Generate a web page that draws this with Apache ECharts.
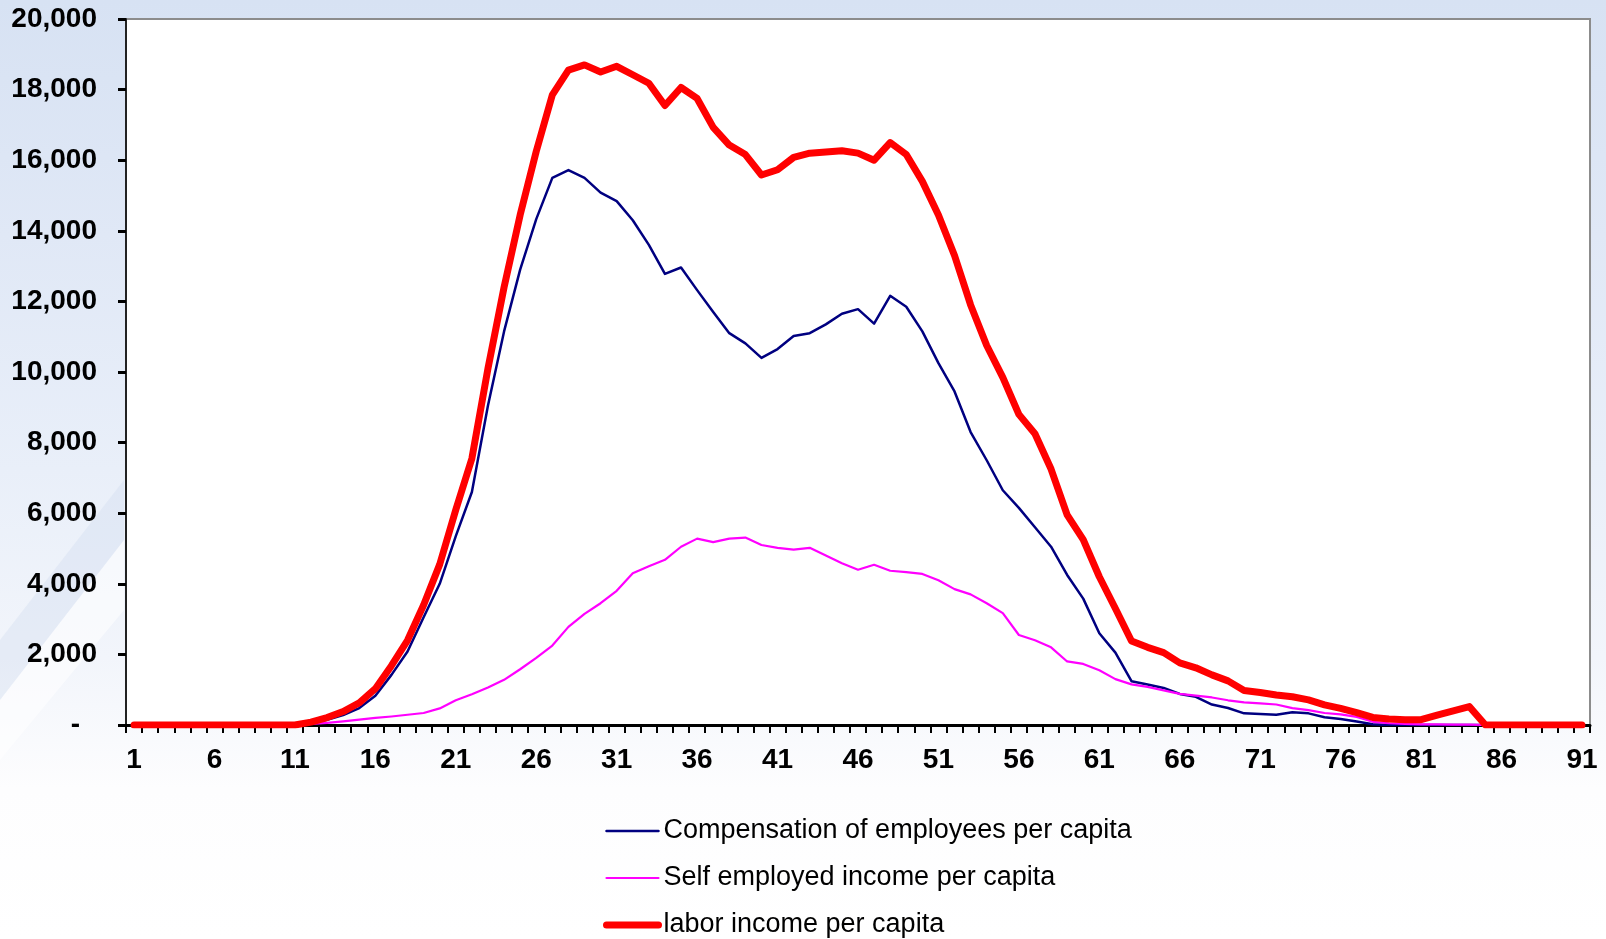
<!DOCTYPE html>
<html>
<head>
<meta charset="utf-8">
<title>Labor income per capita by age</title>
<script src="https://cdn.jsdelivr.net/npm/echarts@6/dist/echarts.min.js"></script>
<style>
  html, body { margin: 0; padding: 0; width: 1606px; height: 939px; overflow: hidden; }
  body {
    background: linear-gradient(180deg, #d7e2f3 0%, #e0e8f6 25%, #e9eff9 50%, #f2f5fb 70%, #fdfdfe 84%, #ffffff 100%);
  }
  #chart { width: 1606px; height: 939px; }
</style>
</head>
<body>
<div id="chart"></div>
<script>
// Age groups on the horizontal axis
const ages = [
  1, 2, 3, 4, 5, 6, 7, 8, 9, 10, 11, 12, 13, 14, 15, 16, 17, 18, 19, 20,
  21, 22, 23, 24, 25, 26, 27, 28, 29, 30, 31, 32, 33, 34, 35, 36, 37, 38, 39, 40,
  41, 42, 43, 44, 45, 46, 47, 48, 49, 50, 51, 52, 53, 54, 55, 56, 57, 58, 59, 60,
  61, 62, 63, 64, 65, 66, 67, 68, 69, 70, 71, 72, 73, 74, 75, 76, 77, 78, 79, 80,
  81, 82, 83, 84, 85, 86, 87, 88, 89, 90, 91
];

// Compensation of employees per capita, ages 1..91
const compensation = [
  0, 0, 0, 0, 0, 0, 0, 0, 0, 0, 0,
  50, 150, 280, 480, 830, 1420, 2080, 3050, 4000,
  5350, 6600, 9050, 11150, 12900, 14330, 15500, 15720, 15500, 15080,
  14840, 14300, 13600, 12780, 12960, 12320, 11700, 11100, 10810, 10400,
  10650, 11020, 11100, 11350, 11650, 11780, 11370, 12160, 11850, 11150,
  10250, 9450, 8300, 7500, 6650, 6150, 5600, 5050, 4250, 3580,
  2600, 2050, 1240, 1150, 1050, 880, 800, 580, 480, 330,
  310, 290, 360, 330, 220, 170, 100, 20,
  0, 0, 0, 0, 0, 0, 0, 0, 0, 0, 0, 0, 0
];

// Self employed income per capita, ages 1..91
const selfEmployed = [
  0, 0, 0, 0, 0, 0, 0, 0, 0, 0, 0,
  30, 60, 100, 150, 200, 240, 290, 340, 470,
  700, 870, 1060, 1280, 1580, 1900, 2250, 2780, 3150, 3450,
  3800, 4300, 4500, 4680, 5050, 5280, 5180, 5280, 5310, 5100,
  5020, 4970, 5020, 4800, 4580, 4400, 4540, 4370, 4330, 4280,
  4100, 3850, 3700, 3450, 3170, 2550, 2400, 2200, 1800, 1730,
  1550, 1300, 1150, 1080, 980, 880, 830, 780, 700, 640,
  610, 580, 480, 420, 340, 300, 230, 90, 50, 30,
  20, 15, 10, 10,
  0, 0, 0, 0, 0, 0, 0
];

// Labor income per capita, ages 1..91
const laborIncome = [
  0, 0, 0, 0, 0, 0, 0, 0, 0, 0, 0,
  80, 210, 380, 630, 1030, 1680, 2400, 3400, 4550,
  6100, 7550, 10100, 12400, 14450, 16250, 17850, 18550, 18700, 18500,
  18660, 18420, 18180, 17550, 18060, 17750, 16930, 16430, 16160, 15580,
  15730, 16080, 16200, 16230, 16270, 16200, 16000, 16500, 16160, 15400,
  14450, 13300, 11900, 10750, 9850, 8800, 8250, 7250, 5950, 5250,
  4200, 3300, 2380, 2200, 2050, 1760, 1620, 1420, 1250, 975,
  920, 850, 800, 710, 570, 470, 350, 215, 170, 150,
  150, 280, 400, 520,
  0, 0, 0, 0, 0, 0, 0
];

const seriesNames = [
  'Compensation of employees per capita',
  'Self employed income per capita',
  'labor income per capita'
];

const seriesColors = ['#000080', '#ff00ff', '#ff0000'];
const seriesWidths = [2.5, 2.2, 7];

const yMin = 0;
const yMax = 20000;
const yStep = 2000;

const FONT = '"Liberation Sans", Arial, Helvetica, sans-serif';

const chart = echarts.init(document.getElementById('chart'), null, { renderer: 'canvas' });

function formatThousands(v) {
  if (v === 0) return '{dash|-}';
  return String(v).replace(/\B(?=(\d{3})+(?!\d))/g, ',');
}

const seriesData = [compensation, selfEmployed, laborIncome];

chart.setOption({
  backgroundColor: 'transparent',
  animation: false,
  graphic: [
    {
      // soft light sweep across the left margin
      type: 'polygon',
      silent: true,
      z: -10,
      shape: { points: [[0, 760], [0, 700], [124, 540], [124, 610]] },
      style: { fill: 'rgba(255,255,255,0.55)' }
    },
    {
      type: 'polygon',
      silent: true,
      z: -10,
      shape: { points: [[0, 700], [0, 640], [124, 480], [124, 540]] },
      style: { fill: 'rgba(205,218,238,0.35)' }
    }
  ],
  grid: {
    left: 126,
    right: 16,
    top: 19,
    bottom: 214,
    show: true,
    backgroundColor: '#ffffff',
    borderColor: '#8c8c8c',
    borderWidth: 2
  },
  legend: {
    orient: 'vertical',
    left: 603,
    top: 816,
    height: 200,
    padding: 0,
    itemWidth: 52,
    itemHeight: 14,
    itemGap: 17,
    selectedMode: false,
    itemStyle: { opacity: 0 },
    textStyle: {
      fontFamily: FONT,
      fontSize: 27,
      color: '#000000',
      lineHeight: 30
    },
    data: seriesNames.map((name, i) => ({
      name: name,
      lineStyle: { color: seriesColors[i], width: seriesWidths[i], cap: 'round' }
    }))
  },
  xAxis: {
    type: 'category',
    data: ages,
    boundaryGap: true,
    axisLine: { show: true, lineStyle: { color: '#000000', width: 3 } },
    axisTick: {
      show: true,
      interval: 0,
      alignWithLabel: false,
      length: 8,
      lineStyle: { color: '#000000', width: 2 }
    },
    axisLabel: {
      interval: 4,
      margin: 21,
      fontFamily: FONT,
      fontSize: 28,
      fontWeight: 'bold',
      color: '#000000'
    },
    splitLine: { show: false }
  },
  yAxis: {
    type: 'value',
    min: yMin,
    max: yMax,
    interval: yStep,
    axisLine: { show: true, lineStyle: { color: '#222222', width: 2 } },
    axisTick: { show: true, length: 8, lineStyle: { color: '#000000', width: 3 } },
    axisLabel: {
      margin: 29,
      fontFamily: FONT,
      fontSize: 28,
      fontWeight: 'bold',
      color: '#000000',
      formatter: formatThousands,
      rich: {
        dash: {
          fontFamily: FONT,
          fontSize: 28,
          fontWeight: 'bold',
          color: '#000000',
          padding: [0, 17, 0, 0]
        }
      }
    },
    splitLine: { show: false }
  },
  series: seriesNames.map((name, i) => ({
    name: name,
    type: 'line',
    data: seriesData[i],
    symbol: 'none',
    showSymbol: false,
    color: seriesColors[i],
    lineStyle: { color: seriesColors[i], width: seriesWidths[i], join: 'round', cap: 'round' },
    emphasis: { disabled: true },
    z: 2 + i
  }))
});
</script>
</body>
</html>
